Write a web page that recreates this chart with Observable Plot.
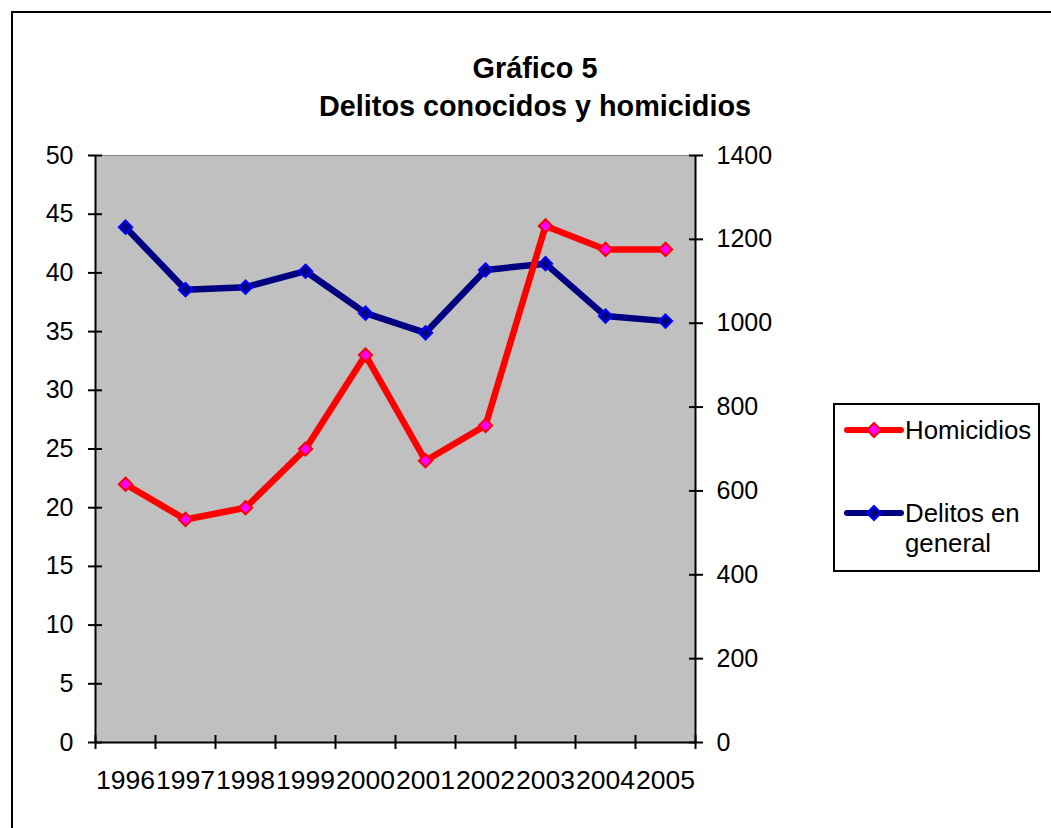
<!DOCTYPE html>
<html>
<head>
<meta charset="utf-8">
<script src="https://cdn.jsdelivr.net/npm/d3@7"></script>
<script src="https://cdn.jsdelivr.net/npm/@observablehq/plot@0.6"></script>
<style>
  body { margin: 0; background: #fff; font-family: "Liberation Sans", Arial, sans-serif; }
  #wrap { position: relative; width: 1051px; height: 828px; overflow: hidden; }
  #border { position: absolute; left: 11px; top: 11px; width: 1050px; height: 840px; border: 2px solid #000; box-sizing: border-box; }
  #title { position: absolute; left: 235px; width: 600px; top: 49px; text-align: center; font-weight: bold; font-size: 28.8px; line-height: 38px; color: #000; }
  #chart { position: absolute; left: 0; top: 0; }
  #legend { position: absolute; left: 833px; top: 403px; width: 207px; height: 169px; border: 2px solid #000; box-sizing: border-box; background: #fff; font-size: 25.8px; color: #000; }
  .item { position: absolute; left: 8px; display: flex; align-items: flex-start; }
  .item svg { flex: none; }
  .item span { margin-left: 0px; line-height: 30px; }
</style>
</head>
<body>
<div id="wrap">
  <div id="border"></div>
  <div id="chart"></div>
  <div id="title">Gráfico 5<br>Delitos conocidos y homicidios</div>
  <div id="legend"></div>
</div>
<script>
const years = [1996, 1997, 1998, 1999, 2000, 2001, 2002, 2003, 2004, 2005];
const homicidios = [22, 19, 20, 25, 33, 24, 27, 44, 42, 42];
const delitos = [1229, 1080, 1086, 1124, 1024, 977, 1127, 1142, 1017, 1005];
const leftTicks = [0, 5, 10, 15, 20, 25, 30, 35, 40, 45, 50];
const rightTicks = [0, 200, 400, 600, 800, 1000, 1200, 1400];
const seriesNames = ["Homicidios", "Delitos en general"];

const ratio = 1400 / 50; // right axis units per left axis unit

const homData = years.map((y, i) => ({year: y, value: homicidios[i]}));
const delData = years.map((y, i) => ({year: y, value: delitos[i] / ratio}));

const font = '"Liberation Sans", Arial, sans-serif';

const chart = Plot.plot({
  width: 1051,
  height: 828,
  marginLeft: 95,
  marginRight: 356,
  marginTop: 155,
  marginBottom: 86,
  style: {fontFamily: font, background: "transparent", color: "#000", overflow: "visible"},
  x: {type: "linear", domain: [years[0] - 0.5, years[years.length - 1] + 0.5]},
  y: {domain: [0, 50]},
  marks: [
    Plot.frame({fill: "#C0C0C0", stroke: "#808080"}),
    Plot.ruleX([years[0] - 0.5, years[years.length - 1] + 0.5], {stroke: "#000", strokeWidth: 2}),
    Plot.ruleY([0], {stroke: "#000", strokeWidth: 2}),
    Plot.axisY({anchor: "left", ticks: leftTicks, tickSize: 14, dx: 7, tickPadding: 15,
      fontSize: 25, strokeWidth: 2, tickFormat: d => String(d), label: null}),
    Plot.axisY({anchor: "right", ticks: rightTicks.map(v => v / ratio), tickSize: 14, dx: -7, tickPadding: 14,
      fontSize: 25, strokeWidth: 2, tickFormat: d => String(Math.round(d * ratio)), label: null}),
    Plot.axisX({anchor: "bottom", ticks: d3.range(years[0] - 0.5, years[years.length - 1] + 1, 1),
      tickSize: 14, dy: -7, strokeWidth: 2, tickFormat: () => "", label: null}),
    Plot.axisX({anchor: "bottom", ticks: years, tickSize: 0, tickPadding: 28,
      fontSize: 26.5, tickFormat: d => String(d), label: null}),
    Plot.line(delData, {x: "year", y: "value", stroke: "#000080", strokeWidth: 6.5, strokeLinejoin: "round"}),
    Plot.line(homData, {x: "year", y: "value", stroke: "#FF0000", strokeWidth: 6.5, strokeLinejoin: "round"}),
    Plot.dot(delData, {x: "year", y: "value", symbol: "diamond2", r: 6, fill: "#000080", stroke: "#0000FF", strokeWidth: 2}),
    Plot.dot(homData, {x: "year", y: "value", symbol: "diamond2", r: 6, fill: "#FF00FF", stroke: "#FF0000", strokeWidth: 2})
  ]
});
document.getElementById("chart").appendChild(chart);

// Legend
const legend = document.getElementById("legend");
const legendItems = [
  {name: seriesNames[0], html: "Homicidios", line: "#FF0000", fill: "#FF00FF", stroke: "#FF0000", top: 10},
  {name: seriesNames[1], html: "Delitos en<br>general", line: "#000080", fill: "#000080", stroke: "#0000FF", top: 93}
];
for (const it of legendItems) {
  const div = document.createElement("div");
  div.className = "item";
  div.style.top = it.top + "px";
  div.innerHTML =
    `<svg width="62" height="30"><line x1="4" y1="15" x2="58" y2="15" stroke="${it.line}" stroke-width="6" stroke-linecap="round"/>` +
    `<path d="M31,8L38,15L31,22L24,15Z" fill="${it.fill}" stroke="${it.stroke}" stroke-width="2"/></svg>` +
    `<span>${it.html}</span>`;
  legend.appendChild(div);
}
</script>
</body>
</html>
